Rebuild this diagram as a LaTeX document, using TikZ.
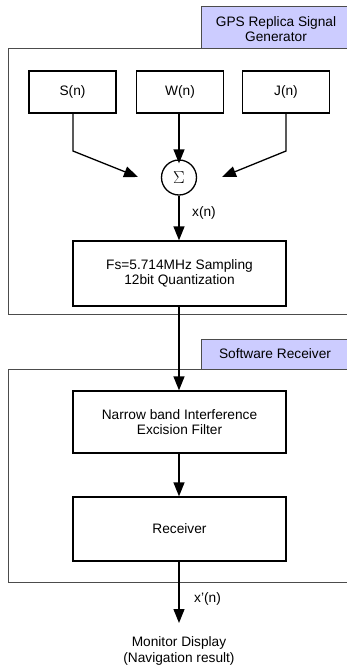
\documentclass[tikz,border=0pt]{standalone}
\usepackage{fontspec}
\setmainfont{Liberation Sans}
\usetikzlibrary{arrows.meta}
\begin{document}
\begin{tikzpicture}[x=1pt,y=-1pt,
  font=\fontsize{13.7}{15.5}\selectfont,
  blk/.style={draw=black,line width=1.3pt,minimum width=213pt,align=center,inner sep=0pt},
  src/.style={draw=black,line width=1.3pt,minimum width=87pt,minimum height=42pt,inner sep=0pt},
  grp/.style={draw=black!70,line width=1pt},
  lbl/.style={draw=black!70,line width=1pt,fill=blue!20},
  arr/.style={line width=1.3pt,-{Triangle[length=14pt,width=11pt]}},
  txt/.style={align=center,inner sep=0pt}]
\useasboundingbox (0,0) rectangle (347,669);
\clip (0,0) rectangle (347,669);
% group frames
\draw[grp] (8,49) rectangle (360,314);
\draw[grp] (8,369) rectangle (360,582);
\draw[lbl] (201,7) rectangle (360,49);
\draw[lbl] (201,339) rectangle (360,369);
\node[txt] (lab1) at (276,29) {GPS Replica Signal\\Generator};
\node[txt] (lab2) at (275,354) {Software Receiver};
% sources
\node[src] (S) at (72.5,92) {S(n)};
\node[src] (W) at (180,92) {W(n)};
\node[src] (J) at (286,92) {J(n)};
\node[draw=black,line width=1.3pt,circle,minimum size=35pt,inner sep=0pt,font=\fontsize{19}{19}\selectfont\rmfamily] (sum) at (179,177.5) {$\Sigma$};
\coordinate (sl) at (138,177);
\coordinate (sr) at (222,177);
\coordinate (bendS) at (73,151);
\coordinate (bendJ) at (286,151);
\draw[arr] (S.south -| bendS) -- (bendS) -- (sl);
\draw[arr] (J.south -| bendJ) -- (bendJ) -- (sr);
\draw[arr] (W.south -| sum) -- ([yshift=-4pt]sum.north);
% blocks
\node[blk,minimum height=65pt] (fs) at (179.5,273.5) {Fs=5.714MHz Sampling\\12bit Quantization};
\node[blk,minimum height=62pt] (nb) at (179.5,422) {Narrow band Interference\\Excision Filter};
\node[blk,minimum height=64pt] (rx) at (179.5,529) {Receiver};
\draw[arr] (sum.south) -- (sum.south |- fs.north);
\node[txt] (xn) at (204,213) {x(n)};
\draw[arr] (fs.south -| sum) -- (nb.north -| sum);
\draw[arr] (nb.south -| sum) -- (rx.north -| sum);
\coordinate (out) at (179,623);
\draw[arr] (rx.south -| sum) -- (out);
\node[txt] (xpn) at (207.5,599) {x'(n)};
\node[txt] (mon) at (179,651) {Monitor Display\\(Navigation result)};
\end{tikzpicture}
\end{document}
